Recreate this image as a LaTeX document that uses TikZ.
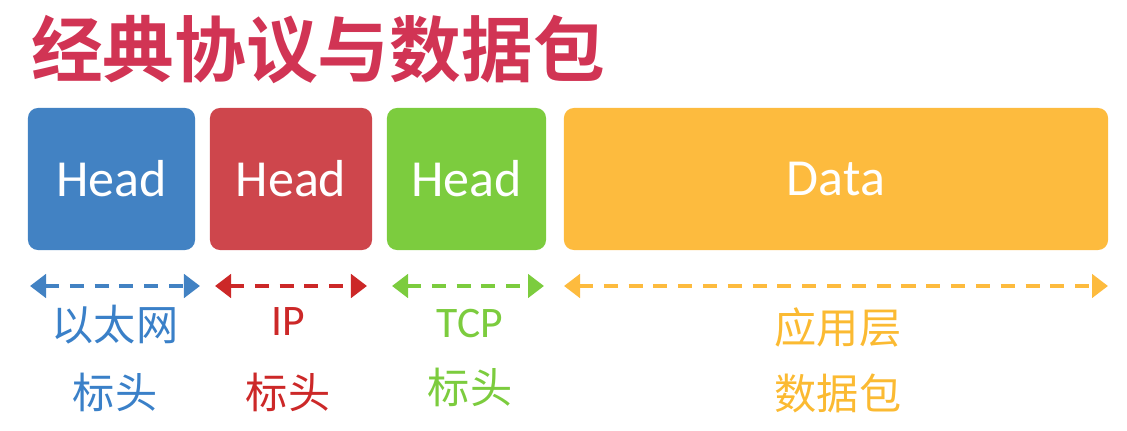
\documentclass[tikz,border=0pt]{standalone}
\usepackage{fontspec}
\setmainfont{Carlito}
\newfontfamily\cjk{Noto Sans CJK SC}
\newfontfamily\cjkbf{Noto Sans CJK SC Bold}
\usetikzlibrary{arrows.meta}

\definecolor{ethblue}{RGB}{66,130,195}
\definecolor{ipred}{RGB}{206,70,76}
\definecolor{tcpgreen}{RGB}{124,204,62}
\definecolor{dataorange}{RGB}{253,187,62}
\definecolor{titlered}{RGB}{209,52,84}
\definecolor{ethtext}{RGB}{58,128,200}
\definecolor{iptext}{RGB}{204,40,40}
\definecolor{tcptext}{RGB}{124,204,62}
\definecolor{datatext}{RGB}{251,186,50}

\begin{document}
\begin{tikzpicture}[
x=0.025cm, y=-0.025cm,
every node/.style={
align=center,
inner sep=0pt
},
arrow/.style={{Triangle[length=0.4cm,width=0.58cm]}-{Triangle[length=0.4cm,width=0.58cm]},
line width=2.9pt, dash pattern=on 0.35cm off 0.27cm}
]

\useasboundingbox (0,0) rectangle (1127,431);

% =====================================================
% Styles
% =====================================================

\tikzstyle{field} =
[rectangle, rounded corners=0.25cm,
minimum height=3.55cm,
text=white,
font=\fontsize{37}{40}\selectfont]

\tikzstyle{label} =
[font=\cjk\fontsize{30}{34}\selectfont]

% =====================================================
% Title
% =====================================================

\node (title) [text=titlered, font=\cjkbf\fontsize{51}{56}\selectfont]
at (318,50) {经典协议与数据包};

% =====================================================
% Nodes
% =====================================================

\node (eth) [field, fill=ethblue, minimum width=4.175cm]
at (111.5,179) {Head};

\node (ip) [field, fill=ipred, minimum width=4.05cm]
at (291,179) {Head};

\node (tcp) [field, fill=tcpgreen, minimum width=3.975cm]
at (466.5,179) {Head};

\node (data) [field, fill=dataorange, minimum width=13.6cm]
at (836,179) {Data};

% =====================================================
% Spans
% =====================================================

\coordinate (ethL) at (30,286);
\coordinate (ethR) at (200,286);
\coordinate (ipL) at (215,286);
\coordinate (ipR) at (367,286);
\coordinate (tcpL) at (392,286);
\coordinate (tcpR) at (544,286);
\coordinate (dataL) at (564,286);
\coordinate (dataR) at (1108,286);

\draw [arrow, ethblue] (ethL) -- (ethR);

\draw [arrow, iptext] (ipL) -- (ipR);

\draw [arrow, tcpgreen] (tcpL) -- (tcpR);

\draw [arrow, dataorange] (dataL) -- (dataR);

% =====================================================
% Labels
% =====================================================

\node (ethname) [label, text=ethtext] at (115,325) {以太网};
\node (ethhead) [label, text=ethtext] at (115,392) {标头};

\node (ipname) [text=iptext, font=\fontsize{31}{34}\selectfont] at (288,322) {IP};
\node (iphead) [label, text=iptext] at (288,392) {标头};

\node (tcpname) [text=tcptext, font=\fontsize{31}{34}\selectfont] at (470,324) {TCP};
\node (tcphead) [label, text=tcptext] at (470,387) {标头};

\node (dataname) [label, text=datatext] at (838,327) {应用层};
\node (datahead) [label, text=datatext] at (838,393) {数据包};

\end{tikzpicture}
\end{document}
